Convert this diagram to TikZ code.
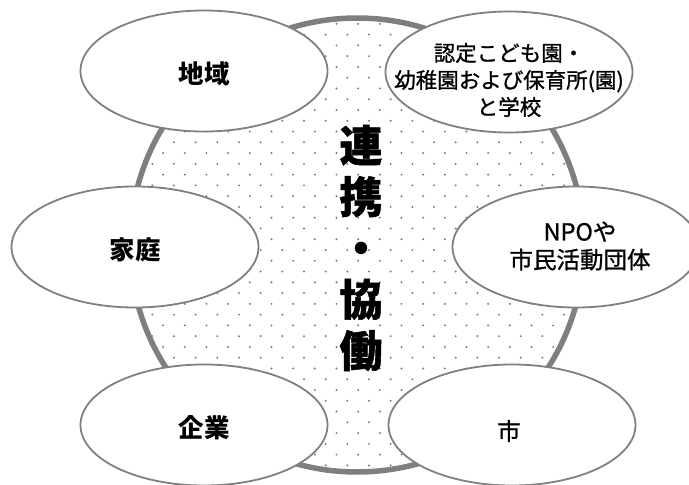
\documentclass[tikz,border=0pt]{standalone}
\usepackage{fontspec}
\setmainfont{Noto Sans CJK JP}
\newfontfamily\midfont[FakeBold=1]{Noto Sans CJK JP}
\newfontfamily\heavyfont[FakeBold=1.2]{Noto Sans CJK JP}
\usetikzlibrary{shapes.geometric, positioning}
\definecolor{ringgray}{HTML}{7F7F7F}
\definecolor{edgegray}{HTML}{808080}
\definecolor{dotgray}{HTML}{7A7A7A}
\tikzset{
x=1pt, y=-1pt, % one unit is one pixel of the picture, y runs downwards
ring/.style={circle, minimum size=454pt, fill=white, draw=ringgray, line width=5.5pt}, % the big dotted circle
bubble/.style={ellipse, minimum width=247pt, minimum height=121pt, fill=white, draw=edgegray, line width=1.8pt}, % the partners round it
tag/.style={align=center, font=\fontsize{25.5}{30}\selectfont\bfseries}, % heavy labels
softtag/.style={align=center, font=\fontsize{23.5}{28}\midfont}, % lighter labels
smalltag/.style={align=center, font=\fontsize{21.5}{27}\midfont}, % the long label
core/.style={align=center, font=\fontsize{43}{51.3}\heavyfont\bfseries}, % the upright word in the middle
}
\begin{document}
\begin{tikzpicture}
    \useasboundingbox (0,0) rectangle (689,485);
    \node[ring] (ring) at (357,245) {};
    \begin{scope}
      \clip (ring.center) circle [radius=224pt];
      \foreach \k in {0,...,44}{
        \foreach \m in {0,...,22}{
          \fill[dotgray] ({108.97+10.83*(1-mod(\k,2))+21.67*\m},{2.3+10.77*\k}) circle [radius=1.1pt];
        }
      }
    \end{scope}
    \node[core] (renkei) at (361,248) {連\\携\\{\midfont ・}\\協\\働};
    \node[bubble] (chiiki) at (204,71) {};
    \node[bubble] (gakko) at (509,72) {};
    \node[bubble] (katei) at (135,247) {};
    \node[bubble] (npo) at (576,247) {};
    \node[bubble] (kigyo) at (204,425) {};
    \node[bubble] (shi) at (512,425) {};
    \node[tag] (chiikitext) at ([yshift=-3pt]chiiki.center) {地域};
    \node[smalltag] (gakkotext) at ([yshift=-8pt]gakko.center) {認定こども園・\\幼稚園および保育所(園)\\と学校};
    \node[tag] (kateitext) at ([yshift=-3pt]katei.center) {家庭};
    \node[softtag] (npotext) at ([xshift=4pt,yshift=1pt]npo.center) {NPOや\\市民活動団体};
    \node[tag] (kigyotext) at ([yshift=-3pt]kigyo.center) {企業};
    \node[softtag] (shitext) at ([xshift=-3pt,yshift=-6pt]shi.center) {市};
\end{tikzpicture}
\end{document}
